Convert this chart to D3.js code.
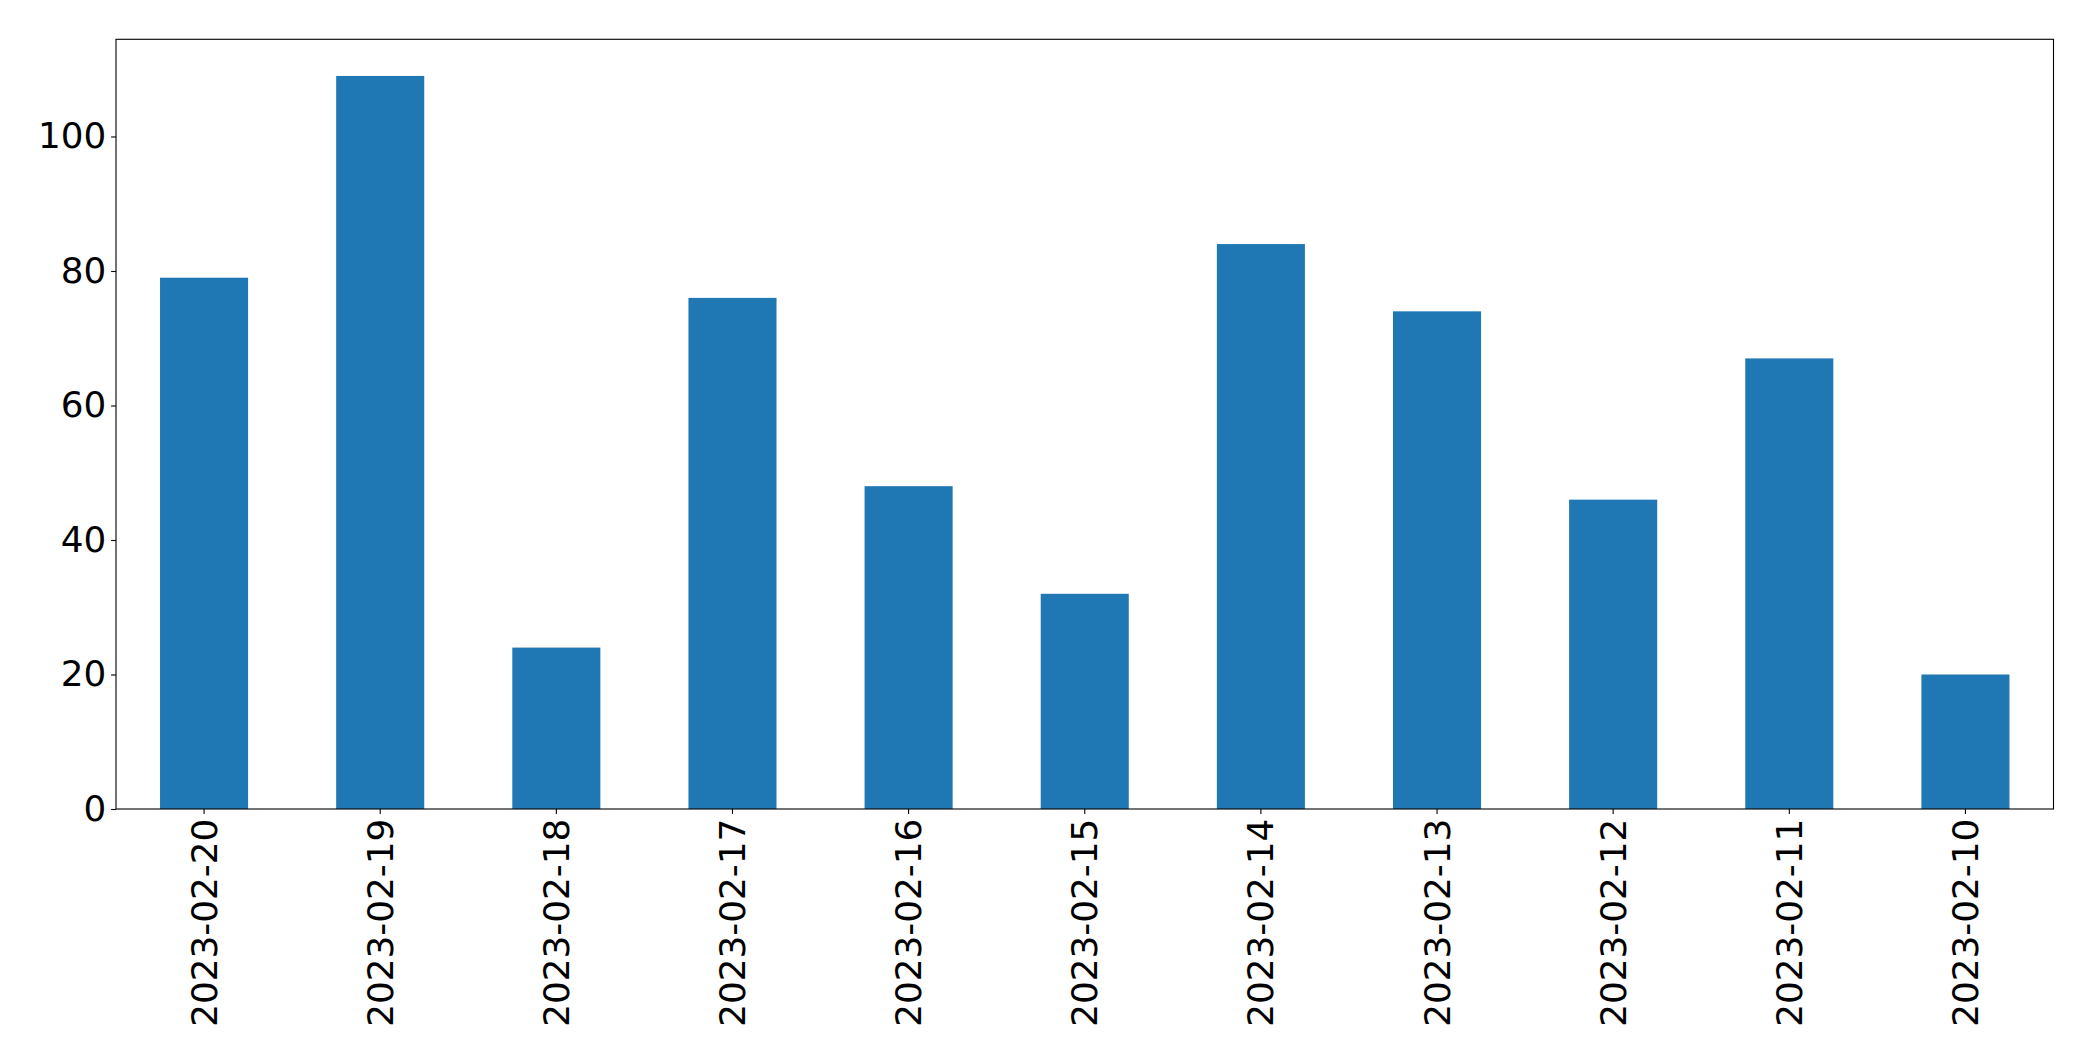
<!DOCTYPE html>
<html>
<head>
<meta charset="utf-8">
<script src="https://cdn.jsdelivr.net/npm/d3@7"></script>
<style>
  html, body { margin: 0; padding: 0; background: #fff; }
  svg { display: block; }
</style>
</head>
<body>
<svg id="chart" width="2093" height="1061"></svg>
<script>
const categories = ["2023-02-20","2023-02-19","2023-02-18","2023-02-17","2023-02-16","2023-02-15","2023-02-14","2023-02-13","2023-02-12","2023-02-11","2023-02-10"];
const values = [79, 109, 24, 76, 48, 32, 84, 74, 46, 67, 20];
const yTicks = [0, 20, 40, 60, 80, 100];

const W = 2093, H = 1061;
const margin = {left: 116, right: W - 2053.5, top: 39.3, bottom: H - 809};
const svg = d3.select("#chart");
const iw = W - margin.left - margin.right;
const ih = H - margin.top - margin.bottom;
const g = svg.append("g").attr("transform", `translate(${margin.left},${margin.top})`);

const x = d3.scaleBand().domain(categories).range([0, iw]).paddingInner(0.5).paddingOuter(0.25);
const y = d3.scaleLinear().domain([0, d3.max(values) * 1.05]).range([ih, 0]);

g.selectAll("rect.bar").data(values).join("rect")
  .attr("class", "bar")
  .attr("x", (d, i) => x(categories[i]))
  .attr("width", x.bandwidth())
  .attr("y", d => y(d))
  .attr("height", d => y(0) - y(d))
  .attr("fill", "#1f77b4");

const font = "'DejaVu Sans', sans-serif";
const fs = 35.8;

const yAxis = g.append("g").call(d3.axisLeft(y).tickValues(yTicks).tickSize(4.9).tickPadding(4.9).tickFormat(d3.format("d")));
const xAxis = g.append("g").attr("transform", `translate(0,${ih})`).call(d3.axisBottom(x).tickSize(4.9).tickPadding(4.9));

[yAxis, xAxis].forEach(a => {
  a.select(".domain").remove();
  a.selectAll(".tick line").attr("stroke", "#000").attr("stroke-width", 1.1);
  a.selectAll("text").attr("fill", "#000").style("font-family", font).style("font-size", fs + "px");
});

xAxis.selectAll(".tick text")
  .attr("transform", "rotate(-90)")
  .attr("x", -(4.9 + 4.9))
  .attr("y", 0)
  .attr("dy", "0.35em")
  .attr("text-anchor", "end");

g.append("rect")
  .attr("x", 0).attr("y", 0).attr("width", iw).attr("height", ih)
  .attr("fill", "none").attr("stroke", "#000").attr("stroke-width", 1.1);
</script>
</body>
</html>
